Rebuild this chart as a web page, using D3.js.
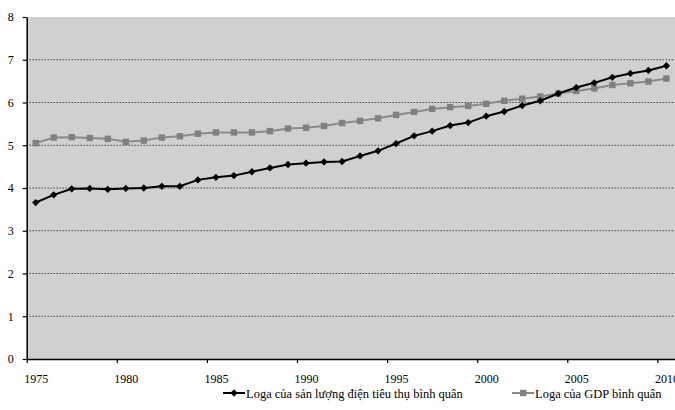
<!DOCTYPE html>
<html>
<head>
<meta charset="utf-8">
<script src="https://cdn.jsdelivr.net/npm/d3@7"></script>
<style>
  body { margin: 0; background: #fff; }
  svg { display: block; font-family: "Liberation Serif", "Times New Roman", serif; }
</style>
</head>
<body>
<div id="chart"></div>
<script>
const years = d3.range(1975, 2011);

// log of per-capita electricity consumption
const elec = [3.66, 3.84, 3.98, 3.99, 3.97, 3.99, 4.00, 4.04, 4.04, 4.19,
              4.25, 4.29, 4.38, 4.47, 4.55, 4.58, 4.61, 4.62, 4.75, 4.87,
              5.04, 5.22, 5.33, 5.46, 5.53, 5.68, 5.79, 5.93, 6.04, 6.21,
              6.35, 6.46, 6.59, 6.68, 6.75, 6.86];

// log of per-capita GDP
const gdp = [5.05, 5.18, 5.19, 5.17, 5.15, 5.08, 5.11, 5.18, 5.21, 5.27,
             5.30, 5.30, 5.30, 5.33, 5.39, 5.41, 5.45, 5.52, 5.57, 5.63,
             5.71, 5.78, 5.85, 5.89, 5.92, 5.97, 6.04, 6.09, 6.14, 6.21,
             6.27, 6.33, 6.41, 6.45, 6.49, 6.56];

const xTicks = [1975, 1980, 1985, 1990, 1995, 2000, 2005, 2010];
const yTicks = [0, 1, 2, 3, 4, 5, 6, 7, 8];
const legendLabels = ['Loga của sản lượng điện tiêu thụ bình quân', 'Loga của GDP bình quân'];

const W = 675, H = 410;
const plotL = 26.7, plotR = 675.4, plotT = 17, plotB = 359;

const svg = d3.select('#chart').append('svg')
    .attr('width', W)
    .attr('height', H);

const x = d3.scaleLinear().domain([1975, 2011]).range([plotL, plotR]);
const y = d3.scaleLinear().domain([0, 8]).range([plotB, plotT]);

// plot background
svg.append('rect')
    .attr('x', plotL)
    .attr('y', plotT)
    .attr('width', plotR - plotL)
    .attr('height', plotB - plotT)
    .attr('fill', '#d0d0d0');

// dotted gridlines
svg.append('g')
    .selectAll('line')
    .data(yTicks.filter(d => d > 0 && d < 8))
    .join('line')
    .attr('x1', plotL)
    .attr('x2', plotR)
    .attr('y1', d => y(d))
    .attr('y2', d => y(d))
    .attr('stroke', '#000')
    .attr('stroke-width', 1)
    .attr('stroke-dasharray', '1,2');

// axes
const yAxis = svg.append('g')
    .attr('transform', `translate(${plotL},0)`)
    .call(d3.axisLeft(y).tickValues(yTicks).tickSize(4).tickSizeOuter(0).tickPadding(9));

const xAxis = svg.append('g')
    .attr('transform', `translate(0,${plotB})`)
    .call(d3.axisBottom(x).tickValues(xTicks).tickFormat(d3.format('d')).tickSize(4).tickSizeOuter(0).tickPadding(11));

xAxis.selectAll('.tick text').attr('dx', (x(1976) - x(1975)) / 2);

[yAxis, xAxis].forEach(a => {
    a.select('.domain').attr('stroke', '#000').attr('stroke-width', 1.5);
    a.selectAll('.tick line').attr('stroke', '#000').attr('stroke-width', 1.2);
    a.selectAll('.tick text')
        .attr('fill', '#000')
        .style('font-family', '"Liberation Serif", serif')
        .style('font-size', '12px');
});

const cx = i => x(years[i] + 0.5);

const line = d3.line()
    .x((d, i) => cx(i))
    .y(d => y(d));

// GDP series (drawn first)
svg.append('path')
    .datum(gdp)
    .attr('fill', 'none')
    .attr('stroke', '#8a8a8a')
    .attr('stroke-width', 2)
    .attr('d', line);

svg.append('g')
    .selectAll('rect')
    .data(gdp)
    .join('rect')
    .attr('x', (d, i) => cx(i) - 3.2)
    .attr('y', d => y(d) - 3.2)
    .attr('width', 6.4)
    .attr('height', 6.4)
    .attr('fill', '#808080');

// electricity series
svg.append('path')
    .datum(elec)
    .attr('fill', 'none')
    .attr('stroke', '#000')
    .attr('stroke-width', 2)
    .attr('d', line);

const diamond = d3.symbol().type(d3.symbolDiamond2).size(34);

svg.append('g')
    .selectAll('path')
    .data(elec)
    .join('path')
    .attr('transform', (d, i) => `translate(${cx(i)},${y(d)})`)
    .attr('d', diamond)
    .attr('fill', '#000');

// legend
const legend = svg.append('g')
    .style('font-size', '12.5px');

const items = [
    { label: legendLabels[0], color: '#000', mark: 'diamond', x0: 223 },
    { label: legendLabels[1], color: '#8a8a8a', mark: 'square', x0: 512 }
];

items.forEach(it => {
    const ly = 393;
    legend.append('line')
        .attr('x1', it.x0)
        .attr('x2', it.x0 + 22)
        .attr('y1', ly)
        .attr('y2', ly)
        .attr('stroke', it.color)
        .attr('stroke-width', 2);
    if (it.mark === 'diamond') {
        legend.append('path')
            .attr('transform', `translate(${it.x0 + 11},${ly})`)
            .attr('d', diamond)
            .attr('fill', '#000');
    } else {
        legend.append('rect')
            .attr('x', it.x0 + 8)
            .attr('y', ly - 3.2)
            .attr('width', 6.4)
            .attr('height', 6.4)
            .attr('fill', '#808080');
    }
    legend.append('text')
        .attr('x', it.x0 + 23)
        .attr('y', ly + 4.5)
        .attr('fill', '#000')
        .text(it.label);
});
</script>
</body>
</html>
